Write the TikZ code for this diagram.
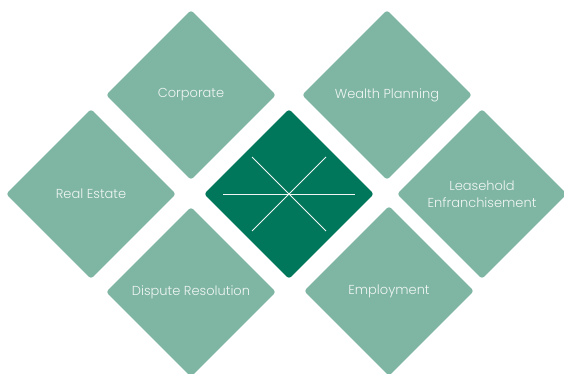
\documentclass[tikz,border=0pt]{standalone}
\usepackage{fontspec}
\IfFontExistsTF{Poppins Light}{\setmainfont{Poppins Light}}{\setmainfont{Poppins}}
\usetikzlibrary{shapes.geometric, positioning}
\definecolor{sage}{RGB}{126,181,163}
\definecolor{pine}{RGB}{0,118,90}
\definecolor{chalk}{RGB}{240,246,243}

\begin{document}
\begin{tikzpicture}[x=1pt, y=-1pt,
  tile/.style={diamond, aspect=1, minimum width=170pt, minimum height=170pt,
    inner sep=0pt, fill=sage, rounded corners=3pt, text=chalk,
    font=\fontsize{13}{17}\selectfont, align=center},
  hubtile/.style={tile, fill=pine},
  spoke/.style={draw=chalk, line width=0.9pt},
  on grid]

  \useasboundingbox (0,0) rectangle (564,374);

  \node[hubtile] (hub) at (289,194) {};
  \node[tile, above left=99pt and 98pt of hub] (corp) {Corporate};
  \node[tile, above right=99pt and 98pt of hub] (wealth) {Wealth Planning};
  \node[tile, left=198pt of hub] (estate) {Real Estate};
  \node[tile, right=193pt of hub] (lease) {Leasehold\\Enfranchisement};
  \node[tile, below left=98pt and 98pt of hub] (dispute) {Dispute Resolution};
  \node[tile, below right=97pt and 100pt of hub] (employ) {Employment};

  \draw[spoke] (hub.center) ++(-66,0) -- ++(132,0);
  \draw[spoke] (hub.center) ++(-37,-37) -- ++(74,74);
  \draw[spoke] (hub.center) ++(37,-37) -- ++(-74,74);
\end{tikzpicture}
\end{document}
